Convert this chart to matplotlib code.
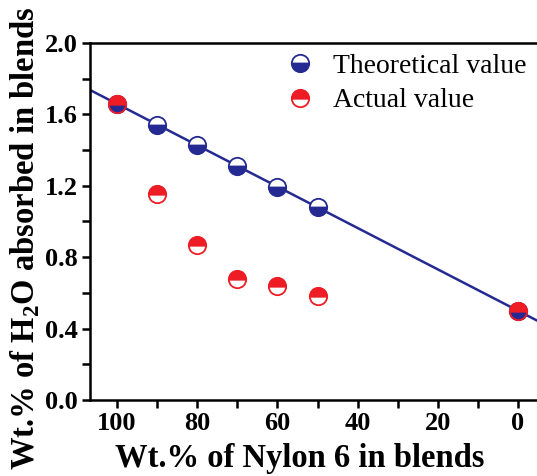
import numpy as np
import matplotlib
matplotlib.use("Agg")
import matplotlib.pyplot as plt
from matplotlib.ticker import MultipleLocator, FormatStrFormatter

nylon_wt = [100, 90, 80, 70, 60, 50, 0]
theoretical = [1.66, 1.54, 1.43, 1.31, 1.195, 1.08, 0.50]
actual = [1.66, 1.155, 0.87, 0.68, 0.64, 0.58, 0.50]

navy = "#252a92"
red = "#ee1c24"

plt.rcParams['font.family'] = ['Liberation Serif', 'DejaVu Serif']
plt.rcParams['mathtext.fontset'] = 'custom'
plt.rcParams['mathtext.rm'] = 'Liberation Serif:bold'
plt.rcParams['mathtext.bf'] = 'Liberation Serif:bold'

fig = plt.figure(figsize=(5.37, 4.76), dpi=100)
W, H = 537, 476
left_px, right_px, top_px, bot_px = 90, 545, 43, 400
aw, ah = right_px - left_px, bot_px - top_px
ax = fig.add_axes([left_px / W, 1 - bot_px / H, aw / W, ah / H])

# x limits: 100 at px 117, 0 at px 518
ppu = (518 - 117) / 100.0
xl = 100 + (117 - left_px) / ppu
xr = 0 - (right_px - 518) / ppu
ax.set_xlim(xl, xr)
ax.set_ylim(0, 2.0)

# linear fit line of theoretical values
coef = np.polyfit(nylon_wt, theoretical, 1)
xs = np.array([xl, xr])
ax.plot(xs, np.polyval(coef, xs), color=navy, lw=1.8, zorder=2)

ax.plot(nylon_wt, theoretical, ls='none', marker='o', markersize=12.5,
        fillstyle='bottom', markerfacecolor=navy, markerfacecoloralt='white',
        markeredgecolor=navy, markeredgewidth=1.3, zorder=3, label='Theoretical value')
ax.plot(nylon_wt, actual, ls='none', marker='o', markersize=12.5,
        fillstyle='top', markerfacecolor=red, markerfacecoloralt='none',
        markeredgecolor=red, markeredgewidth=1.3, zorder=4, label='Actual value')

ax.xaxis.set_major_locator(MultipleLocator(20))
ax.xaxis.set_minor_locator(MultipleLocator(10))
ax.yaxis.set_major_locator(MultipleLocator(0.4))
ax.yaxis.set_minor_locator(MultipleLocator(0.2))
ax.tick_params(which='both', direction='out', width=1.8, top=False, right=False)
ax.tick_params(which='major', length=6, labelsize=19, pad=3)
ax.tick_params(which='minor', length=6)
for lbl in ax.get_xticklabels() + ax.get_yticklabels():
    lbl.set_fontweight('bold')
ax.yaxis.set_major_formatter(FormatStrFormatter('%.1f'))
for s in ax.spines.values():
    s.set_linewidth(1.8)

ax.set_xlabel('Wt.% of Nylon 6 in blends', fontsize=23.5, fontweight='bold')
ax.xaxis.label.set_va('center')
ax.xaxis.set_label_coords((300 - left_px) / aw, (bot_px - 459) / ah)
ax.set_ylabel(r'Wt.% of H$_2$O absorbed in blends', fontsize=23.5, fontweight='bold')
ax.yaxis.label.set_va('center')
ax.yaxis.set_label_coords((25 - left_px) / aw, (bot_px - 238) / ah)

leg = ax.legend(loc='upper left', bbox_to_anchor=((269 - left_px) / aw, 1.0 + 6 / ah),
                frameon=False, fontsize=20, handlelength=1.0, handletextpad=0.7,
                labelspacing=0.32, borderaxespad=0.2)

fig.savefig('out.png', dpi=100)
